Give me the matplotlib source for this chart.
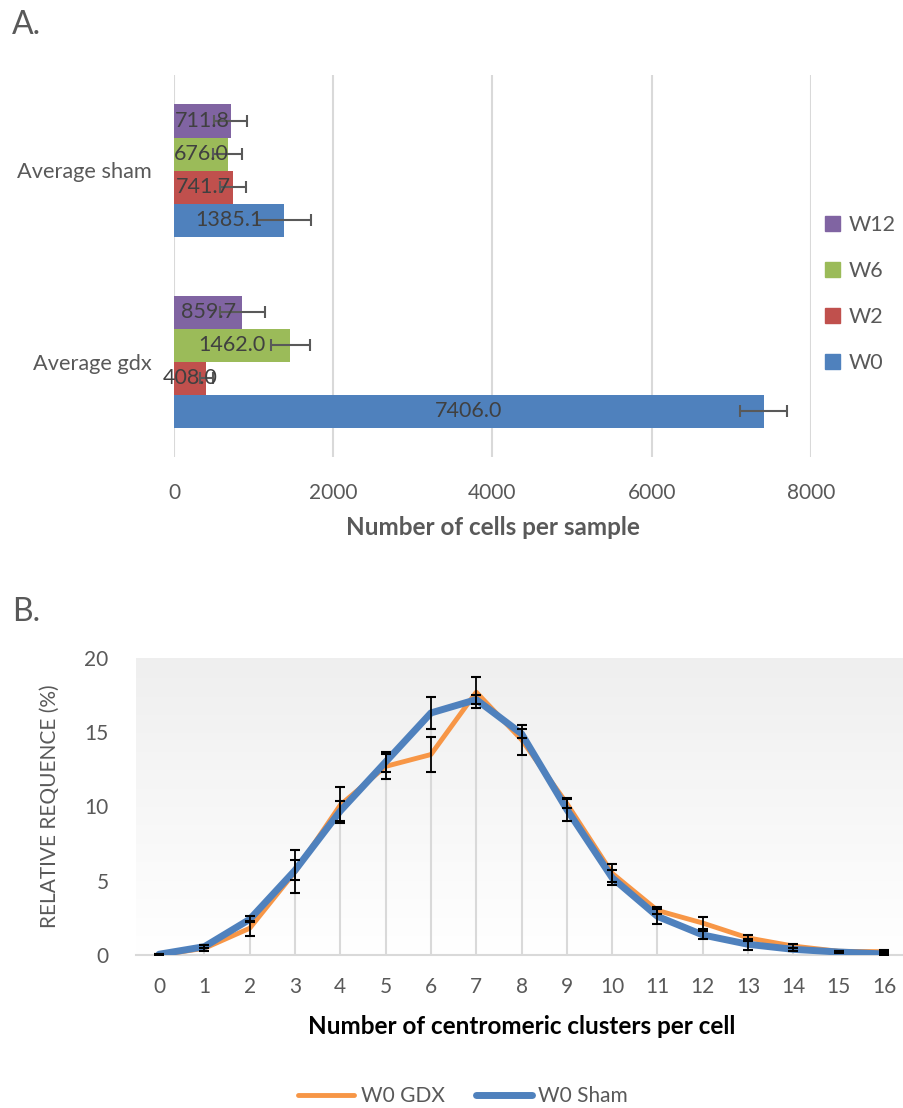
import numpy as np
import matplotlib
matplotlib.use("Agg")
import matplotlib.pyplot as plt
from matplotlib.patches import Patch
from matplotlib.lines import Line2D

plt.rcParams['font.family'] = ['Lato', 'DejaVu Sans']

# --- panel A data: cells per sample ---
groups = ['Average gdx', 'Average sham']
weeks = ['W0', 'W2', 'W6', 'W12']
week_colors = ['#4F81BD', '#C0504D', '#9BBB59', '#8064A2']
cells_gdx = [7406.0, 408.0, 1462.0, 859.7]
cells_sham = [1385.1, 741.7, 676.0, 711.8]
err_gdx = [295, 85, 246, 280]
err_sham = [340, 160, 180, 210]

# --- panel B data: centromeric clusters per cell ---
clusters = list(range(17))
gdx_freq = [0.0, 0.45, 1.8, 5.6, 10.1, 12.7, 13.5, 17.7, 14.5, 10.2, 5.5, 3.0, 2.15, 1.15, 0.6, 0.25, 0.22]
gdx_err = [0.05, 0.2, 0.5, 1.45, 1.2, 0.85, 1.2, 1.05, 1.0, 0.3, 0.6, 0.25, 0.4, 0.2, 0.15, 0.05, 0.15]
sham_freq = [0.05, 0.56, 2.4, 5.7, 9.7, 13.0, 16.3, 17.2, 14.9, 9.8, 5.2, 2.6, 1.35, 0.72, 0.38, 0.2, 0.07]
sham_err = [0.02, 0.1, 0.2, 0.68, 0.7, 0.7, 1.05, 0.3, 0.3, 0.8, 0.5, 0.5, 0.27, 0.38, 0.1, 0.05, 0.1]

W, H = 904, 1108
fig = plt.figure(figsize=(W / 100, H / 100), dpi=100)
txt = '#595959'
grid = '#D9D9D9'

def frac(x0, y0, x1, y1):
    return [x0 / W, 1 - y1 / H, (x1 - x0) / W, (y1 - y0) / H]

# ---------------- A ----------------
axA = fig.add_axes(frac(174, 75, 811, 457))
h = 33 / 191
offsets = [-1.5 * h, -0.5 * h, 0.5 * h, 1.5 * h]
for i, wk in enumerate(weeks):
    vals = [cells_gdx[i], cells_sham[i]]
    errs = [err_gdx[i], err_sham[i]]
    ys = [g + offsets[i] for g in range(len(groups))]
    axA.barh(ys, vals, height=h, color=week_colors[i], zorder=2, label=wk)
    axA.errorbar(vals, ys, xerr=errs, fmt='none', ecolor=txt, elinewidth=1.5,
                 capsize=4, capthick=1.5, zorder=3)
    for y, v in zip(ys, vals):
        axA.text(v / 2, y, f'{v:.1f}', ha='center', va='center', fontsize=15.5,
                 color='#404040', zorder=4)

axA.set_xlim(0, 8000)
axA.set_ylim(-0.5, 1.5)
axA.set_xticks([0, 2000, 4000, 6000, 8000])
axA.set_yticks(range(len(groups)))
axA.set_yticklabels(groups)
axA.xaxis.grid(True, color=grid, linewidth=1.5, zorder=0)
axA.set_axisbelow(True)
for s in axA.spines.values():
    s.set_visible(False)
axA.tick_params(axis='both', length=0, labelsize=15, labelcolor=txt)
axA.tick_params(axis='x', pad=19)
axA.tick_params(axis='y', pad=16, labelsize=15.7)
axA.set_xlabel('Number of cells per sample', fontsize=17.5, fontweight='bold',
               color=txt, labelpad=9)

handles = [Patch(color=week_colors[i]) for i in range(3, -1, -1)]
fig.legend(handles, weeks[::-1], loc='upper left', bbox_to_anchor=(806 / W, 1 - 196 / H),
           frameon=False, fontsize=15.5, labelcolor=txt, handlelength=0.7,
           handleheight=0.7, handletextpad=0.4, labelspacing=1.2)

fig.text(12 / W, 1 - 25 / H, 'A.', fontsize=23, color=txt, va='center')

# ---------------- B ----------------
axB = fig.add_axes(frac(136.4, 658, 906.7, 955))
axB.set_xlim(-0.5, 16.5)
axB.set_ylim(0, 20)

# plot-area gradient, white at top to light grey at bottom
grad = np.linspace(1, 0, 256).reshape(-1, 1)
shade = np.dstack([0.937 + 0.063 * grad] * 3)
axB.imshow(shade, extent=[-0.5, 16.5, 0, 20], aspect='auto', origin='lower', zorder=0)

# drop lines from each point down to the axis
tops = np.maximum(gdx_freq, sham_freq)
axB.vlines(clusters, 0, tops, color=grid, linewidth=1.5, zorder=1)

axB.plot(clusters, gdx_freq, color='#F79646', linewidth=3.5, zorder=2,
         solid_joinstyle='round', solid_capstyle='round')
axB.plot(clusters, sham_freq, color='#4F81BD', linewidth=5, zorder=3,
         solid_joinstyle='round', solid_capstyle='round')
axB.errorbar(clusters, gdx_freq, yerr=gdx_err, fmt='none', ecolor='black',
             elinewidth=1.3, capsize=3.6, capthick=1.5, zorder=4)
axB.errorbar(clusters, sham_freq, yerr=sham_err, fmt='none', ecolor='black',
             elinewidth=1.3, capsize=3.6, capthick=1.5, zorder=4)

axB.set_xticks(clusters)
axB.set_yticks([0, 5, 10, 15, 20])
for name in ['top', 'right', 'left']:
    axB.spines[name].set_visible(False)
axB.spines['bottom'].set_color(grid)
axB.spines['bottom'].set_linewidth(1.5)
axB.spines['bottom'].set_zorder(1.5)
axB.tick_params(axis='both', length=0, labelsize=15, labelcolor=txt)
axB.tick_params(axis='x', pad=16)
axB.tick_params(axis='y', pad=20)
axB.set_xlabel('Number of centromeric clusters per cell', fontsize=17.5,
               fontweight='bold', color='black', labelpad=13)
axB.set_ylabel('RELATIVE REQUENCE (%)', fontsize=15, color=txt, labelpad=18)

legB = [Line2D([0], [0], color='#F79646', linewidth=3.5, solid_capstyle='round'),
        Line2D([0], [0], color='#4F81BD', linewidth=5, solid_capstyle='round')]
fig.legend(legB, ['W0 GDX', 'W0 Sham'], loc='center', ncol=2,
           bbox_to_anchor=(463 / W, 1 - 1096 / H), frameon=False, fontsize=15,
           labelcolor=txt, handlelength=2.7, handletextpad=0.3, columnspacing=1.5)

fig.text(12 / W, 1 - 612 / H, 'B.', fontsize=23, color=txt, va='center')

fig.savefig('out.png', dpi=100)
